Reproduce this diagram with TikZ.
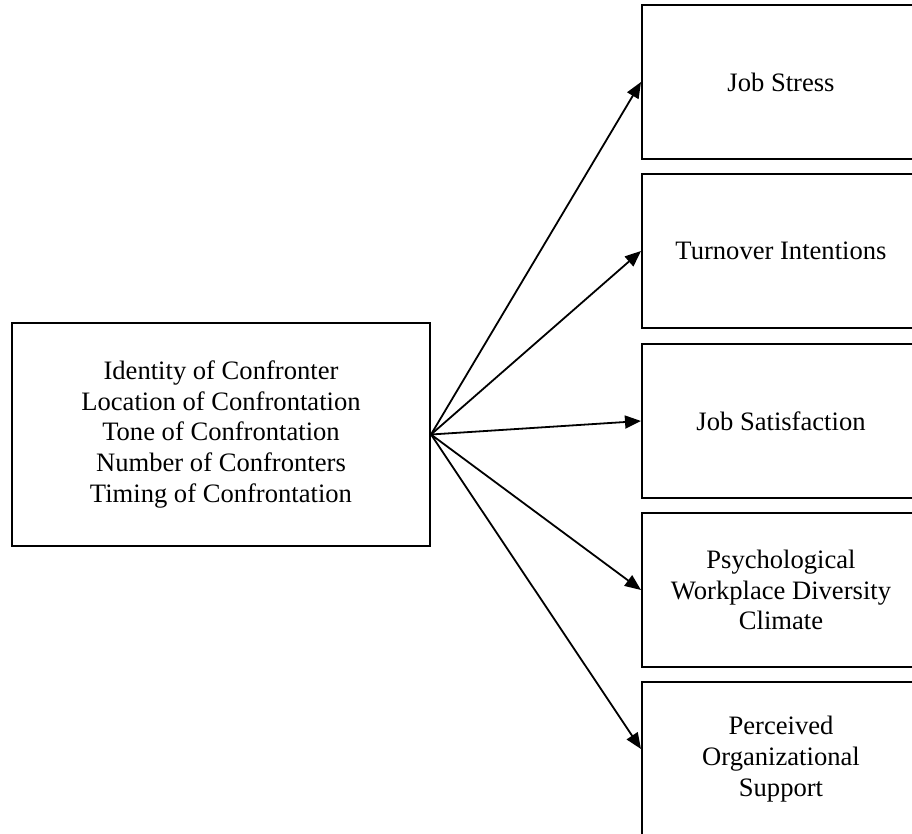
\documentclass[tikz,border=0pt]{standalone}
\usepackage{fontspec}
\setmainfont{Liberation Serif}
\usetikzlibrary{arrows.meta}
\pgfdeclarelayer{edgelayer}
\pgfdeclarelayer{nodelayer}
\pgfsetlayers{edgelayer,nodelayer,main}
\tikzset{font=\fontsize{13.3}{15.4}\selectfont}
\tikzstyle{none}=[inner sep=0pt]
\tikzstyle{cause}=[draw,line width=1pt,align=center,minimum width=209pt,minimum height=111.5pt]
\tikzstyle{outcome}=[draw,line width=1pt,align=center,minimum width=139pt,minimum height=77pt]
\tikzstyle{link}=[line width=0.9pt,-{Triangle[length=8pt,width=6.5pt]}]

\begin{document}
\begin{tikzpicture}[x=0.5pt,y=-0.5pt]
	\useasboundingbox (0,0) rectangle (912,834);
	\begin{pgfonlayer}{nodelayer}
		\node [style=cause] (0) at (221, 434.5) {Identity of Confronter\\Location of Confrontation\\Tone of Confrontation\\Number of Confronters\\Timing of Confrontation};
		\node [style=outcome] (1) at (781, 82) {Job Stress};
		\node [style=outcome] (2) at (781, 251) {Turnover Intentions};
		\node [style=outcome] (3) at (781, 421) {Job Satisfaction};
		\node [style=outcome] (4) at (781, 590) {Psychological\\Workplace Diversity\\Climate};
		\node [style=outcome] (5) at (781, 759) {Perceived\\Organizational\\Support};
	\end{pgfonlayer}
	\begin{pgfonlayer}{edgelayer}
		\draw [style=link] (0.east) to (1.west);
		\draw [style=link] (0.east) to (2.west);
		\draw [style=link] (0.east) to (3.west);
		\draw [style=link] (0.east) to (4.west);
		\draw [style=link] (0.east) to ([yshift=5pt]5.west);
	\end{pgfonlayer}
\end{tikzpicture}
\end{document}
